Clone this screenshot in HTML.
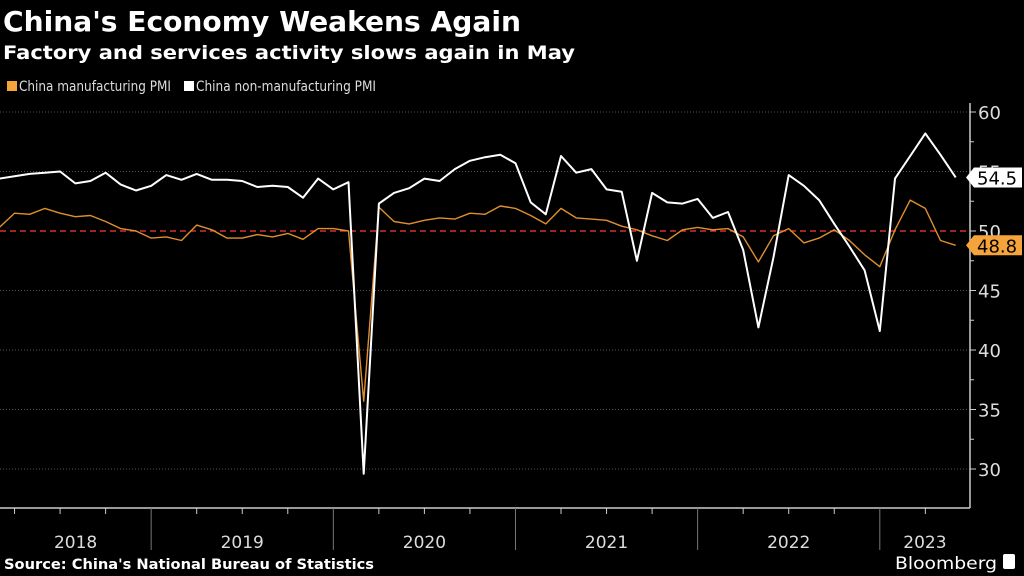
<!DOCTYPE html>
<html><head><meta charset="utf-8"><style>
html,body{margin:0;padding:0;background:#000;}
svg{display:block;}
text{font-family:"DejaVu Sans","Liberation Sans",sans-serif;}
</style></head><body>
<svg id="chart" width="1024" height="576" viewBox="0 0 1024 576" xmlns="http://www.w3.org/2000/svg">
<rect width="1024" height="576" fill="#000"/>
<text x="3" y="31" fill="#fff" font-size="28" font-weight="bold" textLength="518" lengthAdjust="spacingAndGlyphs">China's Economy Weakens Again</text>
<text x="3" y="59" fill="#fff" font-size="19" font-weight="bold" textLength="572" lengthAdjust="spacingAndGlyphs">Factory and services activity slows again in May</text>
<g>
<rect x="7" y="81" width="10" height="10" fill="#f5a33b"/>
<text x="19" y="91" fill="#ddd" font-size="14" textLength="152" lengthAdjust="spacingAndGlyphs">China manufacturing PMI</text>
<rect x="184" y="81" width="10" height="10" fill="#fff"/>
<text x="196" y="91" fill="#ddd" font-size="14" textLength="180" lengthAdjust="spacingAndGlyphs">China non-manufacturing PMI</text>
</g>
<g id="grid"></g>
<g id="axes"></g>
<g id="series"></g>
<g id="labels"></g>
<text x="4" y="569" fill="#fff" font-size="14" font-weight="bold" textLength="370" lengthAdjust="spacingAndGlyphs">Source: China's National Bureau of Statistics</text>
<text x="895" y="569" fill="#fff" font-size="17" textLength="102" lengthAdjust="spacingAndGlyphs">Bloomberg</text>
<rect x="1003" y="554" width="12" height="15" rx="2" fill="#fff"/>
</svg>
<script>
const years = ["2018","2019","2020","2021","2022","2023"];
const yTicks = [30,35,40,45,50,55,60];
const manufacturing = [51.3,50.3,51.5,51.4,51.9,51.5,51.2,51.3,50.8,50.2,50.0,49.4,
49.5,49.2,50.5,50.1,49.4,49.4,49.7,49.5,49.8,49.3,50.2,50.2,
50.0,35.7,52.0,50.8,50.6,50.9,51.1,51.0,51.5,51.4,52.1,51.9,
51.3,50.6,51.9,51.1,51.0,50.9,50.4,50.1,49.6,49.2,50.1,50.3,
50.1,50.2,49.5,47.4,49.6,50.2,49.0,49.4,50.1,49.2,48.0,47.0,
50.1,52.6,51.9,49.2,48.8];
const nonManufacturing = [55.3,54.4,54.6,54.8,54.9,55.0,54.0,54.2,54.9,53.9,53.4,53.8,
54.7,54.3,54.8,54.3,54.3,54.2,53.7,53.8,53.7,52.8,54.4,53.5,
54.1,29.6,52.3,53.2,53.6,54.4,54.2,55.2,55.9,56.2,56.4,55.7,
52.4,51.4,56.3,54.9,55.2,53.5,53.3,47.5,53.2,52.4,52.3,52.7,
51.1,51.6,48.4,41.9,47.8,54.7,53.8,52.6,50.6,48.7,46.7,41.6,
54.4,56.3,58.2,56.4,54.5];
const NS="http://www.w3.org/2000/svg";
const AX=970, BASE=508;
function xB(m){return -31+15.18*m;}
function xP(i){return xB(i+1);}
function yS(v){return 112+(60-v)*11.9;}
function mk(tag,attrs,parent){const e=document.createElementNS(NS,tag);for(const k in attrs)e.setAttribute(k,attrs[k]);parent.appendChild(e);return e;}
const grid=document.getElementById('grid'),axes=document.getElementById('axes'),series=document.getElementById('series'),labels=document.getElementById('labels');
yTicks.forEach(t=>{
  const y=yS(t);
  if(t!==50){const g=mk('line',{x1:0,x2:AX,y1:y,y2:y,stroke:'#555','stroke-width':1,'stroke-dasharray':'1,2'},grid);
  
  }
  const tk=mk('line',{x1:AX,x2:AX+6,y1:y,y2:y,stroke:'#ccc'},axes);
  
  
  const tx=mk('text',{x:AX+8,y:y+7,fill:'#ddd','font-size':18},axes);
  
  
  tx.textContent=t;
});
for(let v=32.5;v<60;v+=5){const mt=mk('line',{x1:AX,x2:AX+4,y1:yS(v),y2:yS(v),stroke:'#ccc'},axes);

}
const ref=mk('line',{x1:0,x2:AX,y1:yS(50),y2:yS(50),stroke:'#ff3b3b','stroke-width':1.2,'stroke-dasharray':'6,4'},grid);


const ya=mk('line',{x1:AX,x2:AX,y1:103,y2:BASE,stroke:'#ccc','stroke-width':1.5},axes);


const xa=mk('line',{x1:0,x2:AX,y1:BASE,y2:BASE,stroke:'#ccc','stroke-width':1.5},axes);


for(let m=0;m<=66;m+=3){const x=xB(m);if(x<0||x>AX)continue;
  const yr=(m%12===0);
  const l=mk('line',{x1:x,x2:x,y1:BASE,y2:yr?550:BASE+6,stroke:yr?'#777':'#ccc'},axes);
  
  }
years.forEach((yr,i)=>{
  const x0=Math.max(0,xB(i*12)),x1=Math.min(AX,xB(i*12+12));
  const t=mk('text',{x:(x0+x1)/2,y:548,fill:'#ddd','font-size':17,'text-anchor':'middle'},axes);
  
  
  t.textContent=yr;
});
function line(data,color,w,name){
  const d=data.map((v,i)=>(i?'L':'M')+xP(i).toFixed(1)+','+yS(v).toFixed(1)).join('');
  const p=mk('path',{d:d,fill:'none',stroke:color,'stroke-width':w,'stroke-linejoin':'round'},series);
  
  
}
line(manufacturing,'#e08f2e',1.4,'manufacturing-line');
line(nonManufacturing,'#ffffff',2,'non-manufacturing-line');
function tag(v,bg,fg,name){
  const y=yS(v);
  const p=mk('path',{d:`M${AX-4},${y} L${AX+4},${y-10} H1022 V${y+10} H${AX+4} Z`,fill:bg},labels);
  
  
  const t=mk('text',{x:AX+7,y:y+7,fill:fg,'font-size':18},labels);
  
  
  t.textContent=v.toFixed(1);
}
tag(nonManufacturing[nonManufacturing.length-1],'#fff','#000','last-value-non-manufacturing');
tag(manufacturing[manufacturing.length-1],'#f5a33b','#000','last-value-manufacturing');
</script>
</body></html>
